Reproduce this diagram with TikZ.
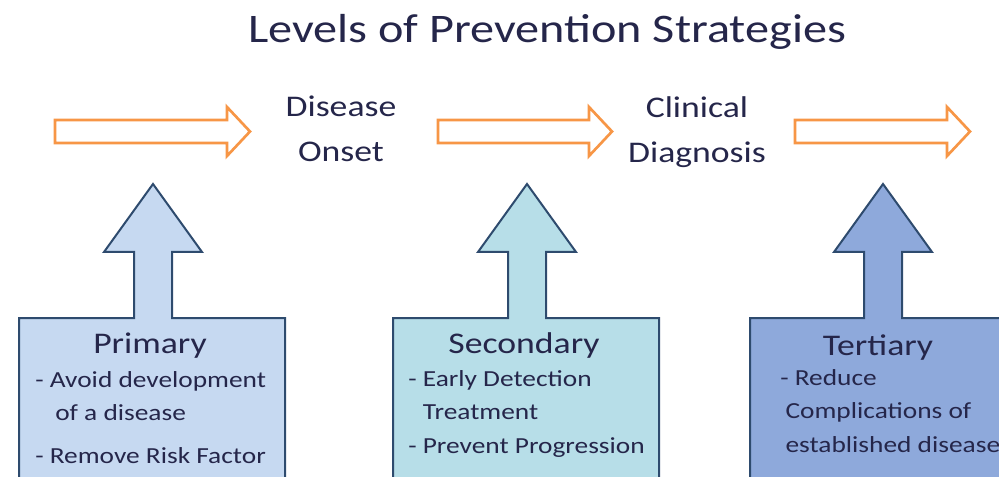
\documentclass[tikz,border=0pt]{standalone}
\usepackage{fontspec}
\setmainfont[FakeStretch=1.19]{Carlito}
\usetikzlibrary{positioning}

\definecolor{inknavy}{HTML}{25264A}
\definecolor{arroworange}{HTML}{F79646}
\definecolor{edgeblue}{HTML}{2E4B6E}
\definecolor{primfill}{HTML}{C6D9F1}
\definecolor{secfill}{HTML}{B7DEE8}
\definecolor{terfill}{HTML}{8EA9DB}

\tikzset{
  timeline/.style={draw=arroworange, line width=2pt, fill=white, line join=miter},
  levelshape/.style={draw=edgeblue, line width=1.5pt, line join=miter},
  stage/.style={text=inknavy, align=center, inner sep=0pt,
    font=\fontsize{22.5}{33.75}\selectfont},
  levelhead/.style={text=inknavy, inner sep=0pt, anchor=base,
    font=\fontsize{22.5}{27}\selectfont},
  leveltext/.style={text=inknavy, inner sep=0pt, anchor=base west, align=left,
    font=\fontsize{17.25}{25}\selectfont}
}

\begin{document}
\begin{tikzpicture}[x=0.75pt,y=-0.75pt]
  \useasboundingbox (0,0) rectangle (999,477);
  \clip (0,0) rectangle (999,477);

  \node[text=inknavy, inner sep=0pt, anchor=base, font=\fontsize{30.4}{36}\selectfont]
    (title) at (547,43) {Levels of Prevention Strategies};

  % orange timeline arrows
  \foreach \xa/\xb in {55/250, 438/612, 795/970}
    \draw[timeline] (\xa,120) -- (\xb-23,120) -- (\xb-23,107) -- (\xb,131.5)
      -- (\xb-23,156) -- (\xb-23,143) -- (\xa,143) -- cycle;

  % base anchor sits on the last line
  \node[stage, anchor=base] (onset) at (341,162) {Disease\\Onset};
  \node[stage, anchor=base] (diagnosis) at (697,163) {Clinical\\Diagnosis};

  % boxes with up arrows
  \foreach \l/\r/\c/\f in {19/285/153/primfill, 393/659/527/secfill, 750/1010/883/terfill}
    \draw[levelshape, fill=\f] (\l,495) -- (\l,318) -- (\c-19,318) -- (\c-19,252)
      -- (\c-49,252) -- (\c,184) -- (\c+49,252) -- (\c+19,252) -- (\c+19,318)
      -- (\r,318) -- (\r,495) -- cycle;

  \node[levelhead] (primary) at (150,353) {Primary};
  \node[leveltext] (primarytext) at (35,463)
    {- Avoid development\\\hspace*{15pt}of a disease\\[7pt]- Remove Risk Factor};

  \node[levelhead] (secondary) at (524,353) {Secondary};
  \node[leveltext] (secondarytext) at (408,453)
    {- Early Detection\\\hspace*{11pt}Treatment\\- Prevent Progression};

  \node[levelhead] (tertiary) at (878,355) {Tertiary};
  \node[leveltext] (tertiarytext) at (780,452)
    {- Reduce\\\hspace*{4pt}Complications of\\\hspace*{4pt}established disease};
\end{tikzpicture}
\end{document}
